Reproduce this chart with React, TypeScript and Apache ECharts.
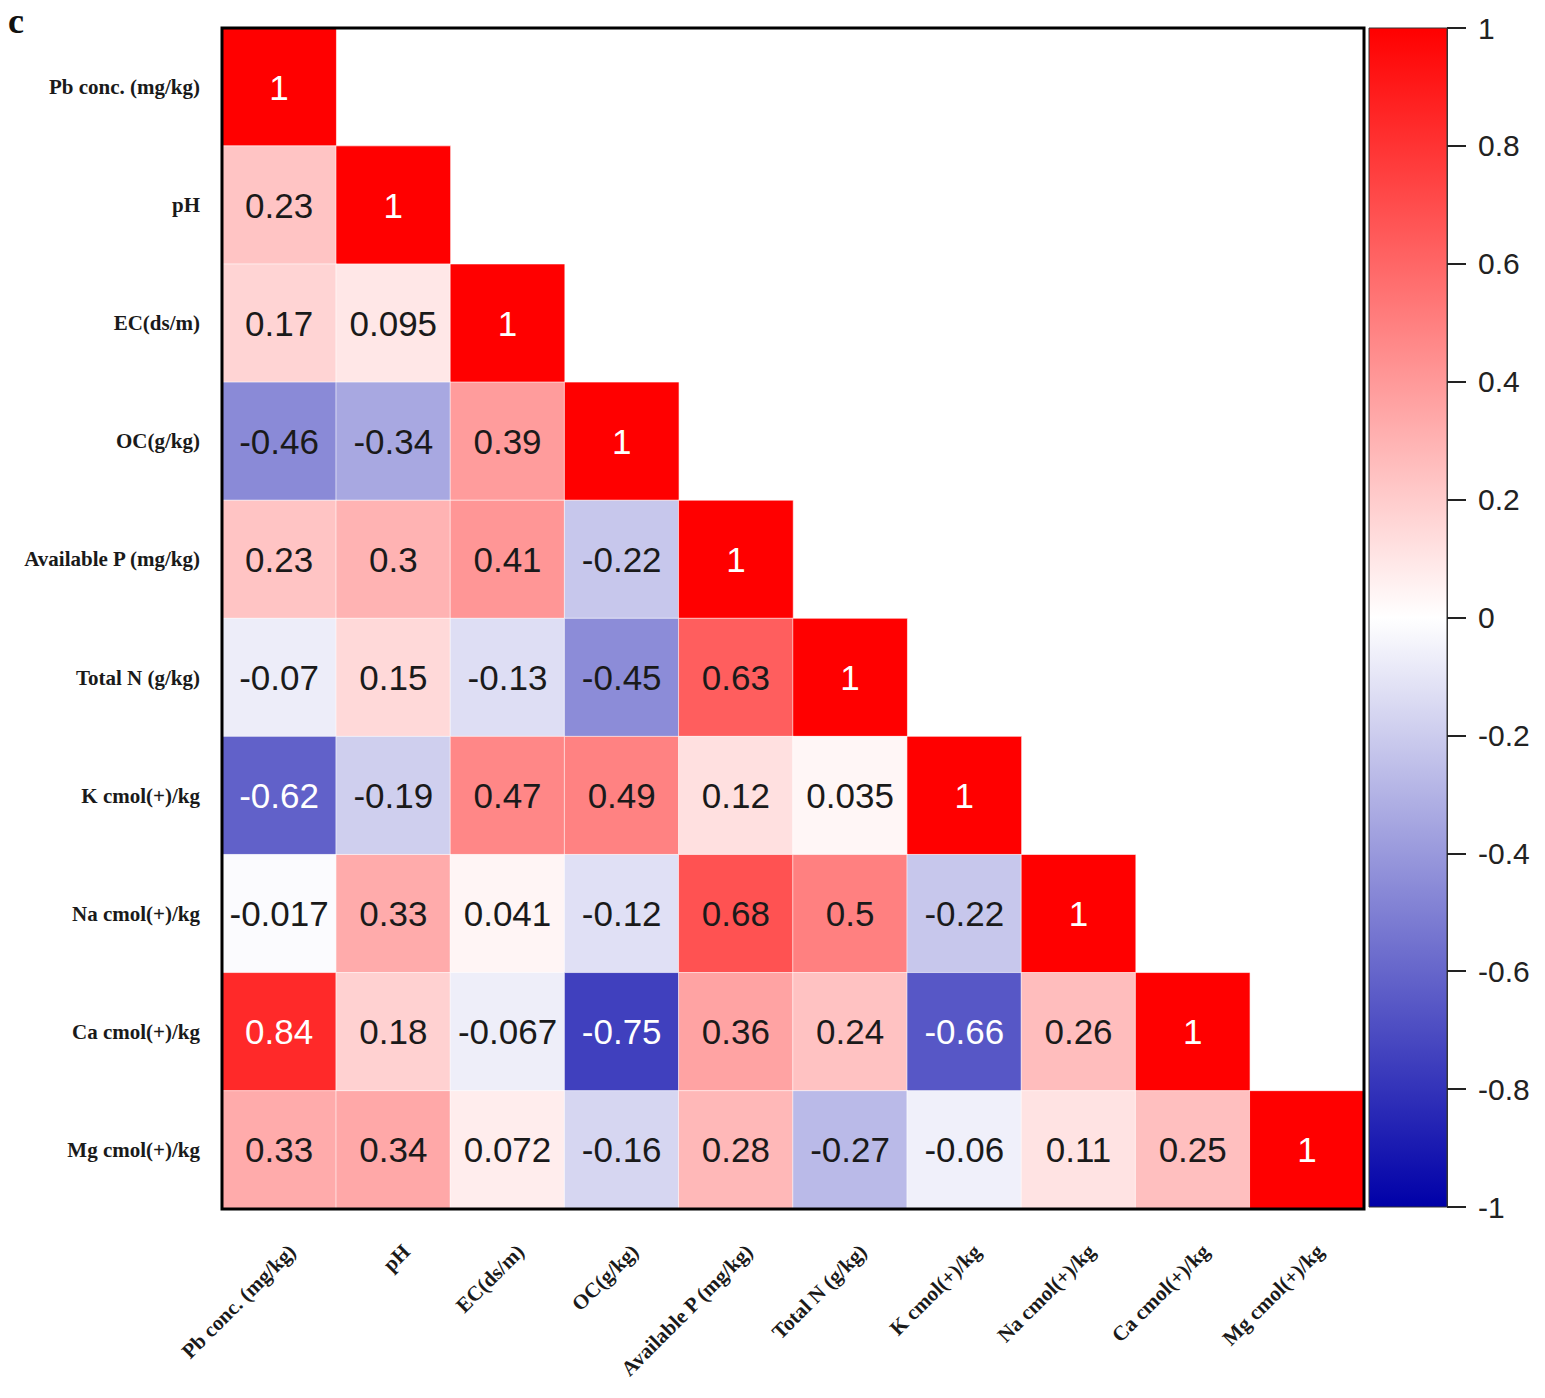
import React, { useEffect, useRef } from "react";
import * as echarts from "echarts";

const variables = [
  "Pb conc. (mg/kg)",
  "pH",
  "EC(ds/m)",
  "OC(g/kg)",
  "Available P (mg/kg)",
  "Total N (g/kg)",
  "K cmol(+)/kg",
  "Na cmol(+)/kg",
  "Ca cmol(+)/kg",
  "Mg cmol(+)/kg",
];

// lower-triangle rows, row i lists correlations with columns 0..i
const rowPb = [1];
const rowPH = [0.23, 1];
const rowEC = [0.17, 0.095, 1];
const rowOC = [-0.46, -0.34, 0.39, 1];
const rowAvP = [0.23, 0.3, 0.41, -0.22, 1];
const rowTN = [-0.07, 0.15, -0.13, -0.45, 0.63, 1];
const rowK = [-0.62, -0.19, 0.47, 0.49, 0.12, 0.035, 1];
const rowNa = [-0.017, 0.33, 0.041, -0.12, 0.68, 0.5, -0.22, 1];
const rowCa = [0.84, 0.18, -0.067, -0.75, 0.36, 0.24, -0.66, 0.26, 1];
const rowMg = [0.33, 0.34, 0.072, -0.16, 0.28, -0.27, -0.06, 0.11, 0.25, 1];

const rows = [rowPb, rowPH, rowEC, rowOC, rowAvP, rowTN, rowK, rowNa, rowCa, rowMg];

const scaleColors = ["#0000a8", "#ffffff", "#ff0000"];

export default function App() {
  const ref = useRef<HTMLDivElement>(null);

  useEffect(() => {
    if (!ref.current) return;
    const chart = echarts.init(ref.current, null, { renderer: "svg" });

    const data: any[] = [];
    rows.forEach((row, yi) => {
      row.forEach((v, xi) => {
        const white = v >= 0.8 || v <= -0.55;
        data.push({
          value: [xi, yi, v],
          label: { color: white ? "#ffffff" : "#1a1a1a" },
        });
      });
    });

    const serif = "'Liberation Serif', 'Times New Roman', serif";
    const sans = "'Liberation Sans', Arial, sans-serif";

    chart.setOption({
      animation: false,
      backgroundColor: "#ffffff",
      title: {
        text: "c",
        left: 8,
        top: 3,
        padding: 0,
        textStyle: { fontFamily: serif, fontWeight: "bold", fontSize: 36, lineHeight: 36, color: "#111" },
      },
      grid: [
        {
          left: 222,
          top: 28,
          width: 1142,
          height: 1181,
          show: true,
          borderColor: "#000",
          borderWidth: 3,
          backgroundColor: "transparent",
          z: 5,
        },
        {
          left: 1369,
          top: 28,
          width: 78,
          height: 1179,
          show: true,
          borderColor: "#333",
          borderWidth: 1,
          backgroundColor: new echarts.graphic.LinearGradient(0, 0, 0, 1, [
            { offset: 0, color: scaleColors[2] },
            { offset: 0.5, color: scaleColors[1] },
            { offset: 1, color: scaleColors[0] },
          ]),
        },
      ],
      xAxis: [
        {
          type: "category",
          gridIndex: 0,
          data: variables,
          position: "bottom",
          axisLine: { show: false },
          axisTick: { show: false },
          splitLine: { show: false },
          axisLabel: { show: false },
        },
        {
          type: "value",
          gridIndex: 1,
          min: 0,
          max: 1,
          show: false,
        },
      ],
      yAxis: [
        {
          type: "category",
          gridIndex: 0,
          data: variables,
          inverse: true,
          axisLine: { show: false },
          axisTick: { show: false },
          splitLine: { show: false },
          axisLabel: {
            interval: 0,
            margin: 22,
            fontFamily: serif,
            fontWeight: "bold",
            fontSize: 21,
            color: "#1a1a1a",
          },
        },
        {
          type: "value",
          gridIndex: 1,
          min: -1,
          max: 1,
          interval: 0.2,
          position: "right",
          axisLine: { show: true, onZero: false, lineStyle: { color: "#333", width: 1 } },
          splitLine: { show: false },
          axisTick: { show: true, inside: false, length: 19, lineStyle: { color: "#222", width: 2 } },
          axisLabel: {
            margin: 31,
            fontFamily: sans,
            fontSize: 30,
            color: "#222",
            formatter: (v: number) => String(Math.round(v * 10) / 10),
          },
        },
      ],
      visualMap: {
        type: "continuous",
        show: false,
        min: -1,
        max: 1,
        seriesIndex: 0,
        dimension: 2,
        inRange: { color: scaleColors },
      },
      series: [
        {
          type: "heatmap",
          xAxisIndex: 0,
          yAxisIndex: 0,
          data,
          itemStyle: { borderColor: "rgba(255,255,255,0.6)", borderWidth: 1 },
          label: {
            show: true,
            fontFamily: sans,
            fontSize: 35,
            formatter: (p: any) => String(p.value[2]),
          },
        },
      ],
    });

    // rotated category labels under the matrix, placed through the x axis scale
    const labelY = 1248;
    const xLabels = variables.map((name, i) => {
      const px = chart.convertToPixel({ xAxisIndex: 0 }, i) as number;
      return {
        type: "text",
        x: px + 13,
        y: labelY,
        rotation: Math.PI / 4,
        style: {
          text: name,
          align: "right",
          verticalAlign: "middle",
          fontFamily: serif,
          fontWeight: "bold",
          fontSize: 21,
          fill: "#1a1a1a",
        },
      };
    });
    chart.setOption({ graphic: xLabels });

    return () => chart.dispose();
  }, []);

  return (
    <div
      ref={ref}
      style={{ position: "absolute", left: 0, top: 0, width: 1545, height: 1398 }}
    />
  );
}
